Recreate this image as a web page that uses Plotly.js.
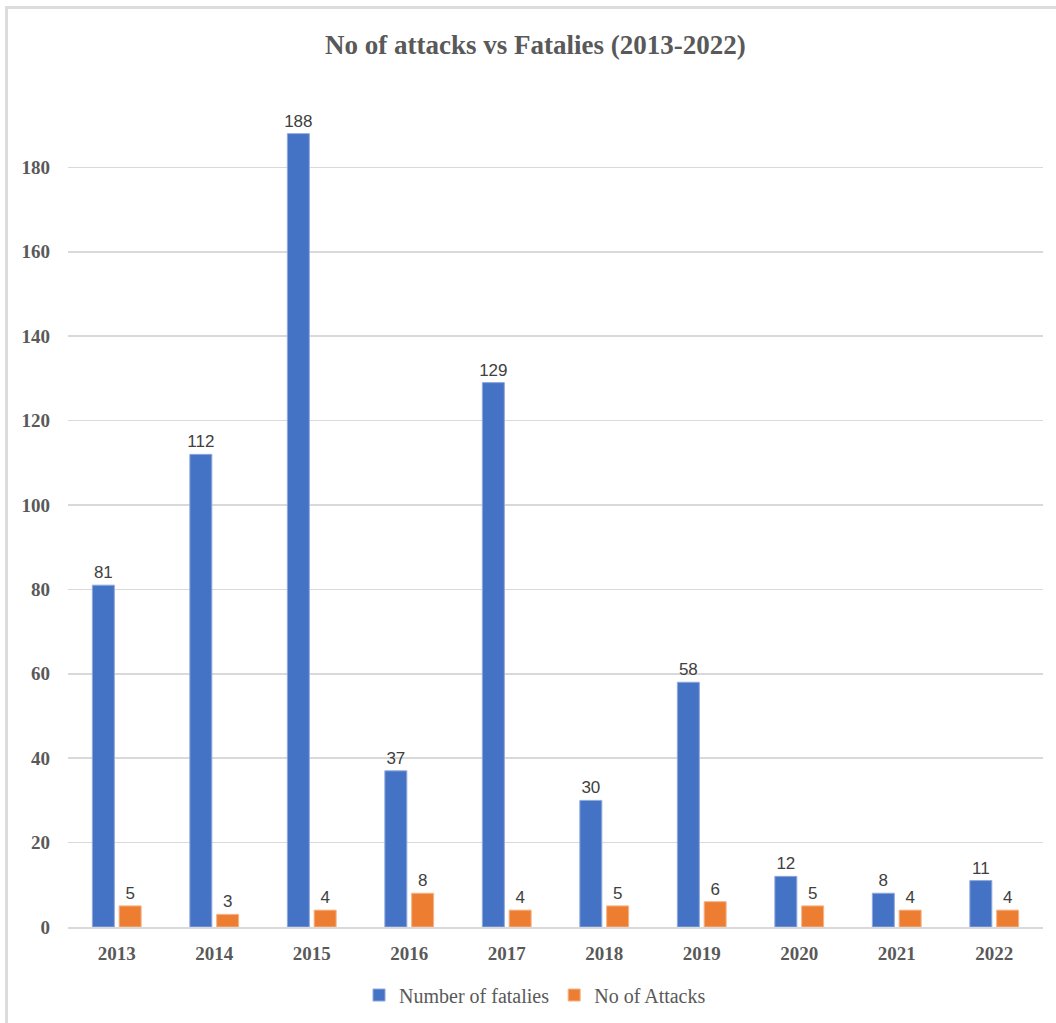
<!DOCTYPE html>
<html>
<head>
<meta charset="utf-8">
<script src="https://cdn.plot.ly/plotly-3.0.1.min.js"></script>
<style>
  html, body { margin: 0; padding: 0; background: #ffffff; }
  #chart { width: 1056px; height: 1023px; position: relative; }
  #frame {
    position: absolute; left: 5px; top: 6px; width: 1060px; height: 1030px;
    border-top: 3px solid #dcdcdc; border-left: 3px solid #dcdcdc;
    pointer-events: none; box-sizing: border-box;
  }
</style>
</head>
<body>
<div id="chart"></div>
<div id="frame"></div>
<script>
// Yearly totals, 2013-2022
const years = ['2013', '2014', '2015', '2016', '2017', '2018', '2019', '2020', '2021', '2022'];
const fatalities = [81, 112, 188, 37, 129, 30, 58, 12, 8, 11];
const attacks = [5, 3, 4, 8, 4, 5, 6, 5, 4, 4];
const yTicks = [0, 20, 40, 60, 80, 100, 120, 140, 160, 180];

const labelFont = { family: 'Liberation Sans, Arial, sans-serif', size: 17, color: '#404040' };

const traces = [
  {
    type: 'bar', name: 'Number of fatalies', x: years, y: fatalities,
    marker: { color: '#4472C4', line: { color: '#8fa9dc', width: 1 } },
    text: fatalities.map(String), textposition: 'outside', cliponaxis: false,
    constraintext: 'none', textfont: labelFont
  },
  {
    type: 'bar', name: 'No of Attacks', x: years, y: attacks,
    marker: { color: '#ED7D31', line: { color: '#f5b48a', width: 1 } },
    text: attacks.map(String), textposition: 'outside', cliponaxis: false,
    constraintext: 'none', textfont: labelFont
  }
];

const axisFont = { family: 'Liberation Serif, Times New Roman, serif', size: 19, color: '#595959', weight: 'bold' };

const layout = {
  width: 1056, height: 1023,
  margin: { l: 68, r: 13, t: 83, b: 96, autoexpand: false },
  paper_bgcolor: '#ffffff', plot_bgcolor: '#ffffff',
  barmode: 'group', bargap: 0.45, bargroupgap: 0.18,
  title: {
    text: '<b>No of attacks vs Fatalies (2013-2022)</b>',
    font: { family: 'Liberation Serif, Times New Roman, serif', size: 27, color: '#595959' },
    x: 0.507, xanchor: 'center', y: 0.956, yanchor: 'middle', yref: 'container'
  },
  xaxis: {
    type: 'category', tickfont: axisFont, showgrid: false, zeroline: false,
    showline: true, linecolor: '#d9d9d9', linewidth: 1.5, ticks: '', ticklabelstandoff: 9
  },
  yaxis: {
    range: [0, 200], tickvals: yTicks, tickfont: axisFont,
    showgrid: true, gridcolor: '#d9d9d9', gridwidth: 1.5, zeroline: false,
    showline: false, ticks: '', ticklabelstandoff: 17
  },
  showlegend: true,
  legend: {
    orientation: 'h', x: 0.479, xanchor: 'center', y: -0.0806, yanchor: 'middle',
    font: { family: 'Liberation Serif, Times New Roman, serif', size: 20, color: '#595959' },
    itemwidth: 30
  }
};

Plotly.newPlot('chart', traces, layout, { displayModeBar: false, staticPlot: true });
</script>
</body>
</html>
